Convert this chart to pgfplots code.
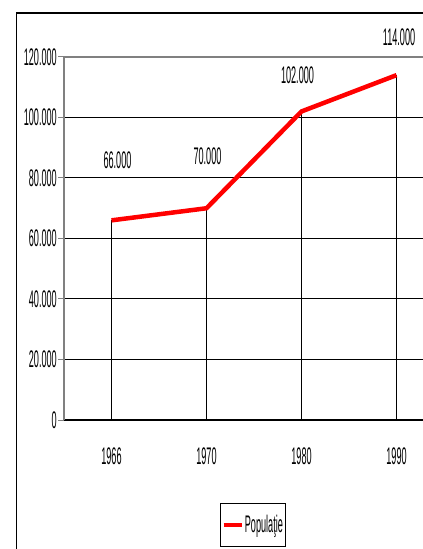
\documentclass[border=0pt]{standalone}
\usepackage{fontspec}
\setmainfont{Liberation Sans}[FakeStretch=0.38]
\usepackage{pgfplots}
\pgfplotsset{compat=1.18}
\newcommand\labfont{\fontsize{24}{27}\selectfont}

\begin{document}
\begin{tikzpicture}
\path[use as bounding box, clip] (0pt,0pt) rectangle (423pt,549pt);
% outer chart frame (cut by the picture edge)
\draw[line width=1.2pt] (16.5pt,-10pt) |- (440pt,536pt);
\begin{axis}[
    at={(64pt,129pt)}, anchor=south west,
    scale only axis,
    width=380pt, height=363pt,
    xmin=0, xmax=4,
    ymin=0, ymax=120000,
    clip=false,
    axis lines=left,
    axis line style={-},
    x axis line style={black, line width=1.6pt},
    y axis line style={gray, line width=1.2pt},
    xtick=\empty,
    minor xtick={0,1,2,3,4},
    minor tick length=9pt,
    extra x ticks={0.5,1.5,2.5,3.5},
    extra x tick labels={1966,1970,1980,1990},
    extra x tick style={major tick length=0pt,
        tick label style={inner ysep=0pt, yshift=-28pt}},
    ytick={0,20000,40000,60000,80000,100000},
    extra y ticks={120000},
    extra y tick style={grid style={gray, line width=1.2pt}},
    major tick length=6pt,
    tick align=outside,
    tick style={gray, line width=1pt},
    ymajorgrids,
    grid style={black, line width=1pt},
    scaled y ticks=false,
    yticklabel style={inner xsep=1pt},
    tick label style={font=\labfont},
    /pgf/number format/.cd, fixed, precision=0, 1000 sep={.}, assume math mode=true,
    /pgfplots/.cd,
    legend style={at={(0.4105,-0.2287)}, anchor=north west,
        draw=black, line width=0.8pt, font=\labfont,
        inner xsep=1pt, inner ysep=11pt,
        nodes={inner sep=1pt}},
    legend image code/.code={\draw[#1] (0pt,0pt) -- (18pt,0pt);},
]
% drop lines
\addplot[ycomb, black, line width=0.8pt, forget plot] table[x=x, y=y] {
x y
0.5 66000
1.5 70000
2.5 102000
3.5 114000
};
\addplot[red, line width=4.5pt, line join=round,
    visualization depends on={\thisrow{dx} \as \labdx},
    visualization depends on={\thisrow{dy} \as \labdy},
    nodes near coords,
    nodes near coords style={font=\labfont, anchor=center, inner sep=0pt,
        black, xshift=\labdx pt, yshift=\labdy pt},
] table[x=x, y=y] {
x y dx dy
0.5 66000 6 60
1.5 70000 1 52
2.5 102000 -4 36
3.5 114000 2.5 37.5
};
\addlegendentry{Populaţie}
\end{axis}
\end{tikzpicture}
\end{document}
